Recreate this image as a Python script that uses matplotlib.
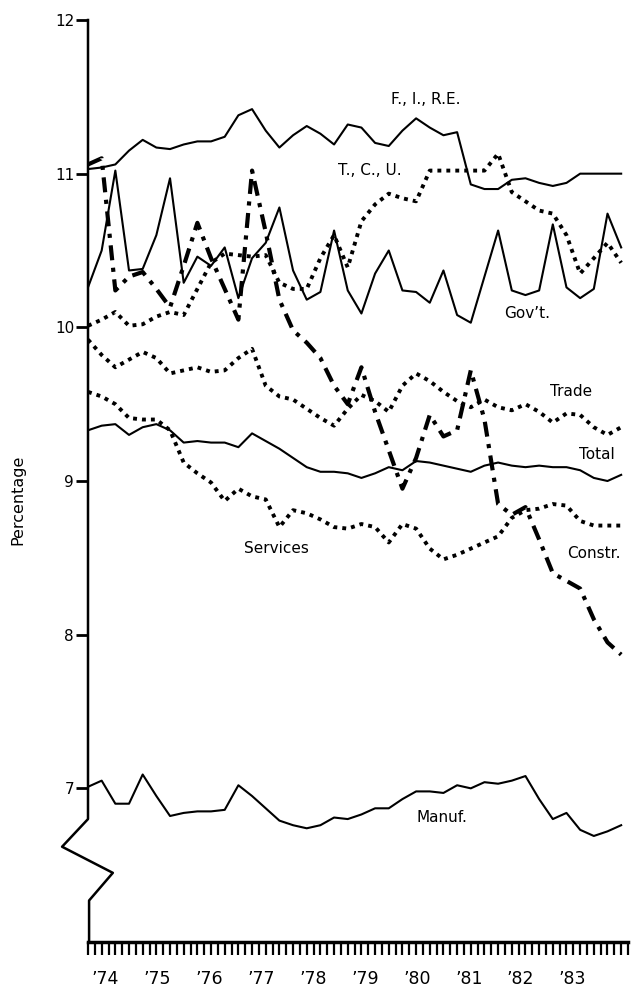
import numpy as np
import matplotlib.pyplot as plt
import matplotlib.transforms as mtransforms

# quarterly data, 1974 Q1 .. 1983 Q4 (percent)
quarters = np.arange(40)
year_labels = ["’74", "’75", "’76", "’77", "’78", "’79", "’80", "’81", "’82", "’83"]

fire = [11.03, 11.04, 11.06, 11.15, 11.22, 11.17, 11.16, 11.19, 11.21, 11.21,
        11.24, 11.38, 11.42, 11.28, 11.17, 11.25, 11.31, 11.26, 11.19, 11.32,
        11.30, 11.20, 11.18, 11.28, 11.36, 11.30, 11.25, 11.27, 10.93, 10.90,
        10.90, 10.96, 10.97, 10.94, 10.92, 10.94, 11.00, 11.00, 11.00, 11.00]

tcu = [10.01, 10.05, 10.10, 10.01, 10.02, 10.07, 10.10, 10.08, 10.25, 10.42,
       10.48, 10.47, 10.46, 10.47, 10.29, 10.25, 10.25, 10.45, 10.60, 10.39,
       10.69, 10.80, 10.87, 10.84, 10.82, 11.02, 11.02, 11.02, 11.02, 11.02,
       11.13, 10.88, 10.82, 10.76, 10.74, 10.60, 10.35, 10.45, 10.55, 10.42]

gov = [10.26, 10.50, 11.02, 10.37, 10.38, 10.60, 10.97, 10.29, 10.46, 10.40,
       10.52, 10.19, 10.45, 10.55, 10.78, 10.37, 10.18, 10.23, 10.63, 10.24,
       10.09, 10.35, 10.50, 10.24, 10.23, 10.16, 10.37, 10.08, 10.03, 10.33,
       10.63, 10.24, 10.21, 10.24, 10.67, 10.26, 10.19, 10.25, 10.74, 10.52]

trade = [9.92, 9.82, 9.74, 9.79, 9.84, 9.80, 9.70, 9.72, 9.74, 9.71,
         9.72, 9.80, 9.86, 9.62, 9.55, 9.53, 9.47, 9.41, 9.36, 9.47,
         9.56, 9.52, 9.45, 9.62, 9.70, 9.65, 9.58, 9.52, 9.48, 9.53,
         9.48, 9.46, 9.50, 9.45, 9.38, 9.44, 9.43, 9.35, 9.30, 9.35]

total = [9.33, 9.36, 9.37, 9.30, 9.35, 9.37, 9.33, 9.25, 9.26, 9.25,
         9.25, 9.22, 9.31, 9.26, 9.21, 9.15, 9.09, 9.06, 9.06, 9.05,
         9.02, 9.05, 9.09, 9.07, 9.13, 9.12, 9.10, 9.08, 9.06, 9.10,
         9.12, 9.10, 9.09, 9.10, 9.09, 9.09, 9.07, 9.02, 9.00, 9.04]

services = [9.58, 9.55, 9.50, 9.41, 9.40, 9.40, 9.33, 9.12, 9.05, 8.99,
            8.87, 8.95, 8.90, 8.88, 8.70, 8.81, 8.79, 8.75, 8.70, 8.69,
            8.72, 8.70, 8.60, 8.72, 8.69, 8.56, 8.49, 8.52, 8.56, 8.60,
            8.64, 8.76, 8.81, 8.82, 8.85, 8.84, 8.74, 8.71, 8.71, 8.71]

constr = [11.06, 11.10, 10.24, 10.33, 10.36, 10.25, 10.13, 10.40, 10.68, 10.45,
          10.25, 10.05, 11.02, 10.62, 10.18, 9.98, 9.90, 9.80, 9.62, 9.50,
          9.74, 9.45, 9.20, 8.95, 9.15, 9.43, 9.29, 9.33, 9.72, 9.40,
          8.85, 8.78, 8.83, 8.62, 8.40, 8.35, 8.30, 8.10, 7.95, 7.87]

manuf = [7.01, 7.05, 6.90, 6.90, 7.09, 6.95, 6.82, 6.84, 6.85, 6.85,
         6.86, 7.02, 6.95, 6.87, 6.79, 6.76, 6.74, 6.76, 6.81, 6.80,
         6.83, 6.87, 6.87, 6.93, 6.98, 6.98, 6.97, 7.02, 7.00, 7.04,
         7.03, 7.05, 7.08, 6.93, 6.80, 6.84, 6.73, 6.69, 6.72, 6.76]

plt.rcParams['font.family'] = ['DejaVu Sans']

fig = plt.figure(figsize=(6.32, 9.9), dpi=100)
ax = fig.add_axes([88 / 632, 48 / 990, 540 / 632, 922 / 990])

dotted = dict(color='black', lw=2.8, dashes=(1, 1.3), dash_capstyle='butt')
solid = dict(color='black', lw=1.5)

ax.plot(quarters, fire, **solid)
ax.plot(quarters, gov, **solid)
ax.plot(quarters, total, **solid)
ax.plot(quarters, manuf, **solid)
ax.plot(quarters, tcu, **dotted)
ax.plot(quarters, trade, **dotted)
ax.plot(quarters, services, **dotted)
ax.plot(quarters, constr, color='black', lw=3, dashes=(3.6, 1.8, 1, 1.8),
        dash_capstyle='butt')

ax.set_xlim(0, 39.5)
ax.set_ylim(6, 12)

# y axis drawn by hand so it can carry the break below 7
for s in ['top', 'right', 'left']:
    ax.spines[s].set_visible(False)
ax.spines['bottom'].set_linewidth(2.5)
trans = mtransforms.blended_transform_factory(ax.transAxes, ax.transData)
ax.plot([0, 0, -0.048, 0.046, 0.002, 0.002], [12, 6.80, 6.62, 6.45, 6.27, 6.0],
        color='black', lw=1.8, transform=trans, clip_on=False)

ax.set_yticks([7, 8, 9, 10, 11, 12])
ax.set_yticklabels(['7', '8', '9', '10', '11', '12'])
ax.tick_params(axis='y', length=9, width=2, pad=1, labelsize=11)

ax.set_xticks(np.arange(0, 39.6, 0.5))
ax.set_xticklabels([])
ax.tick_params(axis='x', length=9, width=1.6)

label_pos = 1.25 + 3.8 * np.arange(len(year_labels))
tx = mtransforms.blended_transform_factory(ax.transData, ax.transAxes)
for x, lab in zip(label_pos, year_labels):
    ax.text(x, -0.040, lab, transform=tx, ha='center', va='center', fontsize=12.5)

ax.text(-0.13, 0.48, 'Percentage', transform=ax.transAxes, rotation=90,
        ha='center', va='center', fontsize=11.5)

lab_kw = dict(ha='center', va='center', fontsize=11)
ax.text(24.7, 11.48, 'F., I., R.E.', **lab_kw)
ax.text(20.6, 11.02, 'T., C., U.', **lab_kw)
ax.text(32.1, 10.09, 'Gov’t.', **lab_kw)
ax.text(35.3, 9.58, 'Trade', **lab_kw)
ax.text(37.2, 9.17, 'Total', **lab_kw)
ax.text(13.8, 8.56, 'Services', **lab_kw)
ax.text(37.0, 8.53, 'Constr.', **lab_kw)
ax.text(25.9, 6.81, 'Manuf.', **lab_kw)

fig.savefig('out.png', dpi=100)
